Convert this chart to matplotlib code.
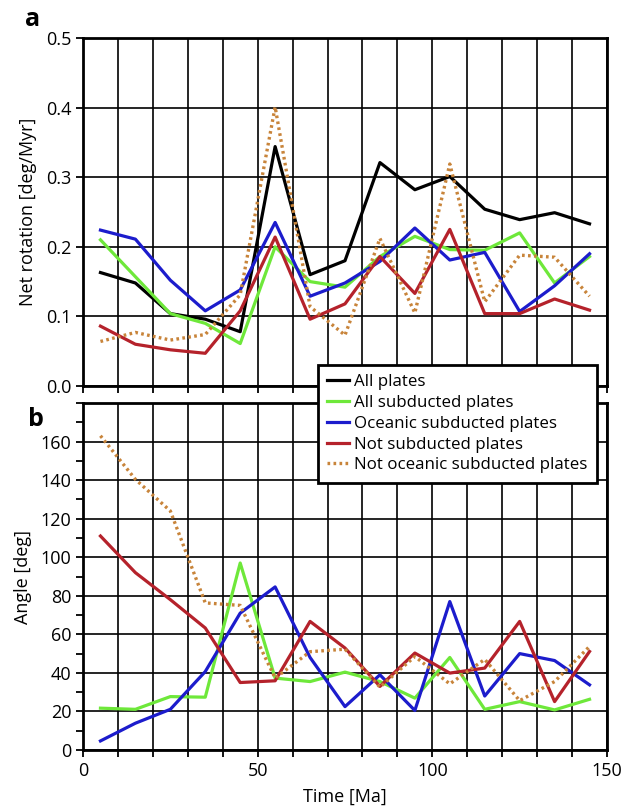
import numpy as np
import matplotlib.pyplot as plt
from matplotlib.ticker import MultipleLocator

plt.rcParams['font.family'] = ['Open Sans', 'DejaVu Sans']

# Time bins (Ma)
time = [5, 15, 25, 35, 45, 55, 65, 75, 85, 95, 105, 115, 125, 135, 145]

# Panel a: net rotation [deg/Myr]
nr_all = [0.163, 0.148, 0.104, 0.096, 0.078, 0.344, 0.160, 0.180, 0.321, 0.282, 0.301, 0.254, 0.239, 0.249, 0.233]
nr_sub = [0.210, 0.157, 0.104, 0.090, 0.061, 0.200, 0.150, 0.142, 0.186, 0.215, 0.196, 0.195, 0.220, 0.148, 0.186]
nr_ocean = [0.224, 0.211, 0.152, 0.108, 0.138, 0.235, 0.129, 0.148, 0.179, 0.227, 0.181, 0.192, 0.107, 0.144, 0.190]
nr_notsub = [0.086, 0.060, 0.052, 0.047, 0.108, 0.214, 0.096, 0.118, 0.186, 0.133, 0.225, 0.104, 0.104, 0.125, 0.109]
nr_notocean = [0.064, 0.077, 0.066, 0.074, 0.131, 0.401, 0.114, 0.073, 0.212, 0.105, 0.319, 0.121, 0.188, 0.185, 0.129]

# Panel b: angle [deg]
ang_sub = [21.7, 21.1, 27.7, 27.4, 97.0, 37.3, 35.5, 40.4, 35.5, 26.9, 48.0, 21.1, 25.1, 20.8, 26.3]
ang_ocean = [4.7, 13.9, 21.1, 40.7, 71.0, 84.6, 48.0, 22.5, 39.0, 20.5, 77.0, 28.0, 50.0, 46.4, 33.8]
ang_notsub = [111.0, 92.0, 78.0, 63.3, 35.0, 35.9, 66.7, 52.9, 33.0, 50.3, 39.9, 42.5, 66.7, 25.1, 51.1]
ang_notocean = [163.0, 140.4, 124.0, 76.3, 75.0, 37.3, 51.0, 52.3, 32.6, 48.5, 34.3, 47.0, 25.6, 35.5, 53.7]

labels = ['All plates', 'All subducted plates', 'Oceanic subducted plates',
          'Not subducted plates', 'Not oceanic subducted plates']
c_black = 'black'
c_green = '#6ee83a'
c_blue = '#1c1ccc'
c_red = '#b5222b'
c_orange = '#c8843a'

fig = plt.figure(figsize=(6.32, 8.06), dpi=100)
W, H = 632, 806

def add_ax(l, t, r, b):
    return fig.add_axes([l / W, 1 - b / H, (r - l) / W, (b - t) / H])

ax1 = add_ax(83, 38, 607, 386)
ax2 = add_ax(83, 403, 607, 750)

lw = 2.3
dots = (0, (0.8, 1.0))
h1, = ax1.plot(time, nr_all, color=c_black, lw=lw)
h2, = ax1.plot(time, nr_sub, color=c_green, lw=lw)
h3, = ax1.plot(time, nr_ocean, color=c_blue, lw=lw)
h4, = ax1.plot(time, nr_notsub, color=c_red, lw=lw)
h5, = ax1.plot(time, nr_notocean, color=c_orange, lw=2.4, ls=dots)

ax2.plot(time, ang_sub, color=c_green, lw=lw)
ax2.plot(time, ang_ocean, color=c_blue, lw=lw)
ax2.plot(time, ang_notsub, color=c_red, lw=lw)
ax2.plot(time, ang_notocean, color=c_orange, lw=2.4, ls=dots)

ax1.set_xlim(0, 150)
ax1.set_ylim(0, 0.5)
ax1.xaxis.set_major_locator(MultipleLocator(10))
ax1.set_xticklabels([])
ax1.set_yticks(np.arange(0, 0.51, 0.1))
ax1.set_yticklabels(['0.0', '0.1', '0.2', '0.3', '0.4', '0.5'])
ax1.set_ylabel('Net rotation [deg/Myr]', fontsize=13, labelpad=6)

ax2.set_xlim(0, 150)
ax2.set_ylim(0, 180)
ax2.set_xticks([0, 50, 100, 150])
ax2.xaxis.set_minor_locator(MultipleLocator(10))
ax2.set_yticks(np.arange(0, 161, 20))
ax2.yaxis.set_minor_locator(MultipleLocator(10))
ax2.set_ylabel('Angle [deg]', fontsize=13, labelpad=6)
ax2.set_xlabel('Time [Ma]', fontsize=13, labelpad=6)

for ax in (ax1, ax2):
    ax.grid(True, which='major', color='black', lw=1.2)
    for s in ax.spines.values():
        s.set_linewidth(2)
    ax.tick_params(which='both', direction='out', labelsize=13, width=1.3, length=5)
    ax.set_axisbelow(True)

# vertical grid on minor ticks in panel b
ax2.xaxis.grid(True, which='minor', color='black', lw=1.2)
ax2.yaxis.grid(False, which='minor')

fig.text(25 / W, 1 - 20 / H, 'a', fontsize=18, fontweight='bold', va='center', ha='left')
fig.text(28 / W, 1 - 420 / H, 'b', fontsize=18, fontweight='bold', va='center', ha='left')

leg = fig.legend([h1, h2, h3, h4, h5], labels, loc='upper left',
                 bbox_to_anchor=(318 / W, 1 - 365 / H), borderaxespad=0,
                 fontsize=12.2, frameon=True, fancybox=False, edgecolor='black',
                 handlelength=1.3, handletextpad=0.3, borderpad=0.55,
                 labelspacing=0.28, framealpha=1)
leg.get_frame().set_linewidth(2)
leg.set_zorder(10)

fig.savefig('out.png', dpi=100)
